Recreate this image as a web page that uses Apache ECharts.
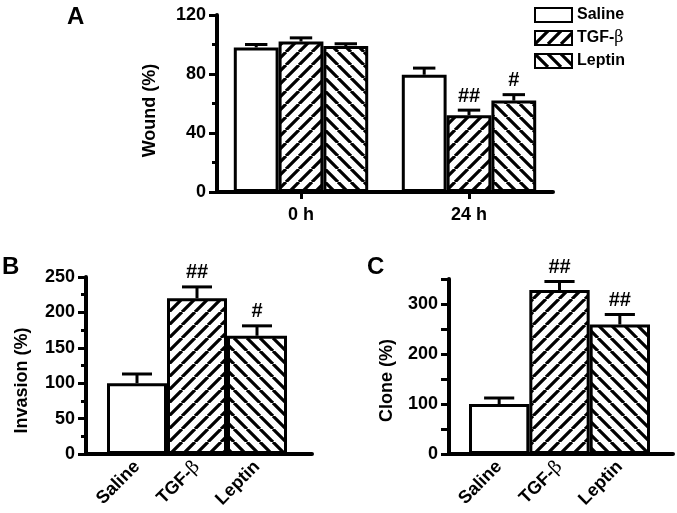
<!DOCTYPE html>
<html>
<head>
<meta charset="utf-8">
<script src="https://cdn.jsdelivr.net/npm/echarts@6/dist/echarts.min.js"></script>
<style>html,body{margin:0;padding:0;background:#fff}#c{width:677px;height:513px}</style>
</head>
<body>
<div id="c"></div>
<script>
// ---- Data ----
const seriesNames = ['Saline', 'TGF-β', 'Leptin'];
// Panel A: Wound (%)
const woundGroups = ['0 h', '24 h'];
const woundSaline = [98, 79.5];
const woundSalineErr = [2, 4.5];
const woundTGF = [102, 52];
const woundTGFErr = [2.5, 3.5];
const woundLeptin = [99, 62];
const woundLeptinErr = [1.5, 4];
const woundAnnSaline = ['', ''];
const woundAnnTGF = ['', '##'];
const woundAnnLeptin = ['', '#'];
const woundTicks = [0, 40, 80, 120];
// Panel B: Invasion (%)
const invasionCats = ['Saline', 'TGF-β', 'Leptin'];
const invasionValues = [100, 220, 167];
const invasionErr = [13, 16, 14];
const invasionAnn = ['', '##', '#'];
const invasionTicks = [0, 50, 100, 150, 200, 250];
// Panel C: Clone (%)
const cloneCats = ['Saline', 'TGF-β', 'Leptin'];
const cloneValues = [100, 328, 259];
const cloneErr = [12, 17, 20];
const cloneAnn = ['', '##', '##'];
const cloneTicks = [0, 100, 200, 300];

// ---- Styling helpers ----
const FONT = 'Liberation Sans, Arial, sans-serif';
function hatch(dir) {
  const s = 13;
  const c = document.createElement('canvas');
  c.width = s; c.height = s;
  const g = c.getContext('2d');
  g.fillStyle = '#fff'; g.fillRect(0, 0, s, s);
  g.strokeStyle = '#000'; g.lineWidth = 3.2;
  g.beginPath();
  for (const x0 of [-s, 0, s]) {
    if (dir > 0) { g.moveTo(x0, s); g.lineTo(x0 + s, 0); }
    else { g.moveTo(x0, 0); g.lineTo(x0 + s, s); }
  }
  g.stroke();
  return { image: c, repeat: 'repeat' };
}
const fills = ['#fff', hatch(1), hatch(-1)];
const betaFmt = v => String(v).replace('β', '{b|β}');
const richBeta = size => ({ b: { fontFamily: 'DejaVu Serif, Liberation Serif, serif', fontWeight: 'normal', fontSize: size, color: '#000' } });

function errSeries(xi, yi, vals, errs, anns, nSeries, sIdx, groupFrac) {
  return {
    type: 'custom', xAxisIndex: xi, yAxisIndex: yi, z: 5, silent: true,
    data: vals.map((v, i) => [i, v, errs[i]]),
    renderItem: (params, api) => {
      const i = api.value(0), v = api.value(1), e = api.value(2);
      const band = api.size([1, 0])[0];
      const bw = band * groupFrac / nSeries;
      const cx = api.coord([i, 0])[0] + (sIdx - (nSeries - 1) / 2) * bw;
      const yTop = api.coord([i, v])[1];
      const yCap = api.coord([i, v + e])[1];
      const half = bw * 0.25;
      const children = [
        { type: 'line', shape: { x1: cx, y1: yTop, x2: cx, y2: yCap }, style: { stroke: '#000', lineWidth: 3 } },
        { type: 'line', shape: { x1: cx - half, y1: yCap, x2: cx + half, y2: yCap }, style: { stroke: '#000', lineWidth: 3 } }
      ];
      const a = anns[params.dataIndex];
      if (a) children.push({ type: 'text', style: { text: a, x: cx, y: yCap - 4, align: 'center', verticalAlign: 'bottom', font: 'bold 20px ' + FONT, fill: '#000' } });
      return { type: 'group', children };
    }
  };
}

const yAxisBase = (gi, min, max, interval, name, gap, shift, labels, minor) => ({
  gridIndex: gi, type: 'value', min, max, interval,
  name, nameLocation: 'middle', nameGap: gap, nameRotate: 90,
  nameTextStyle: { fontFamily: FONT, fontWeight: 'bold', fontSize: 18, color: '#000', padding: [0, shift, 0, 0] },
  axisLine: { show: true, lineStyle: { color: '#000', width: 4 } },
  axisTick: { show: true, length: 8, lineStyle: { color: '#000', width: 3 } },
  minorTick: { show: minor, splitNumber: 2, length: 5, lineStyle: { color: '#000', width: 3 } },
  axisLabel: { margin: 11, fontFamily: FONT, fontWeight: 'bold', fontSize: 18, color: '#000',
    formatter: v => labels.includes(v) ? String(v) : '' },
  splitLine: { show: false }
});
const hiddenY = (gi, min, max) => ({ gridIndex: gi, type: 'value', min, max, show: false, splitLine: { show: false } });
const lineX = gi => ({ gridIndex: gi, type: 'value', min: 0, max: 1,
  axisLine: { show: true, onZero: false, lineStyle: { color: '#000', width: 4 } },
  axisTick: { show: false }, axisLabel: { show: false }, splitLine: { show: false } });
const catX = (gi, cats) => ({ gridIndex: gi, type: 'category', data: cats,
  axisLine: { show: false }, axisTick: { show: false },
  axisLabel: { rotate: 45, margin: 10, interval: 0, fontFamily: FONT, fontWeight: 'bold', fontSize: 18, color: '#000',
    formatter: betaFmt, rich: richBeta(18) } });

const woundVals = [woundSaline, woundTGF, woundLeptin];
const woundErrs = [woundSalineErr, woundTGFErr, woundLeptinErr];
const woundAnns = [woundAnnSaline, woundAnnTGF, woundAnnLeptin];

const series = [];
seriesNames.forEach((n, s) => {
  series.push({
    name: n, type: 'bar', xAxisIndex: 0, yAxisIndex: 0, data: woundVals[s],
    barGap: '0%', barCategoryGap: '20%',
    itemStyle: { color: fills[s], borderColor: '#000', borderWidth: 3 }
  });
});
seriesNames.forEach((n, s) => series.push(errSeries(0, 0, woundVals[s], woundErrs[s], woundAnns[s], 3, s, 0.8)));

series.push({ name: 'Invasion', type: 'bar', xAxisIndex: 2, yAxisIndex: 2, barCategoryGap: '0%',
  data: invasionValues.map((v, i) => ({ value: v, itemStyle: { color: fills[i], borderColor: '#000', borderWidth: 3 } })) });
series.push(errSeries(2, 2, invasionValues, invasionErr, invasionAnn, 1, 0, 1));
series.push({ name: 'Clone', type: 'bar', xAxisIndex: 4, yAxisIndex: 4, barCategoryGap: '0%',
  data: cloneValues.map((v, i) => ({ value: v, itemStyle: { color: fills[i], borderColor: '#000', borderWidth: 3 } })) });
series.push(errSeries(4, 4, cloneValues, cloneErr, cloneAnn, 1, 0, 1));

const option = {
  animation: false,
  backgroundColor: '#fff',
  grid: [
    { left: 217, right: 124, top: 15, bottom: 321 },
    { left: 86, right: 365, top: 277, bottom: 59 },
    { left: 107, right: 390, top: 277, bottom: 59 },
    { left: 449, right: 4, top: 279, bottom: 59 },
    { left: 469, right: 27, top: 279, bottom: 59 }
  ],
  legend: {
    data: seriesNames, orient: 'vertical', left: 529, top: 2,
    itemWidth: 37, itemHeight: 14, itemGap: 7, selectedMode: false, icon: 'rect',
    formatter: betaFmt,
    textStyle: { fontFamily: FONT, fontWeight: 'bold', fontSize: 16, color: '#000', rich: richBeta(16) }
  },
  xAxis: [
    { gridIndex: 0, type: 'category', data: woundGroups,
      axisLine: { show: true, lineStyle: { color: '#000', width: 4 } },
      axisTick: { show: true, alignWithLabel: true, length: 7, lineStyle: { color: '#000', width: 3 } },
      axisLabel: { margin: 14, fontFamily: FONT, fontWeight: 'bold', fontSize: 18, color: '#000' } },
    lineX(1), catX(2, invasionCats), lineX(3), catX(4, cloneCats)
  ],
  yAxis: [
    yAxisBase(0, 0, 120, 40, 'Wound (%)', 58, 14, woundTicks, true),
    yAxisBase(1, 0, 250, 50, 'Invasion (%)', 55, 30, invasionTicks, true),
    hiddenY(2, 0, 250),
    yAxisBase(3, 0, 350, 50, 'Clone (%)', 53, 28, cloneTicks, false),
    hiddenY(4, 0, 350)
  ],
  graphic: [
    { type: 'text', left: 67, top: 5, style: { text: 'A', font: 'bold 24px ' + FONT, fill: '#000' } },
    { type: 'text', left: 2, top: 255, style: { text: 'B', font: 'bold 24px ' + FONT, fill: '#000' } },
    { type: 'text', left: 367, top: 255, style: { text: 'C', font: 'bold 24px ' + FONT, fill: '#000' } }
  ],
  series
};
const chart = echarts.init(document.getElementById('c'), null, { renderer: 'canvas' });
chart.setOption(option);
</script>
</body>
</html>
